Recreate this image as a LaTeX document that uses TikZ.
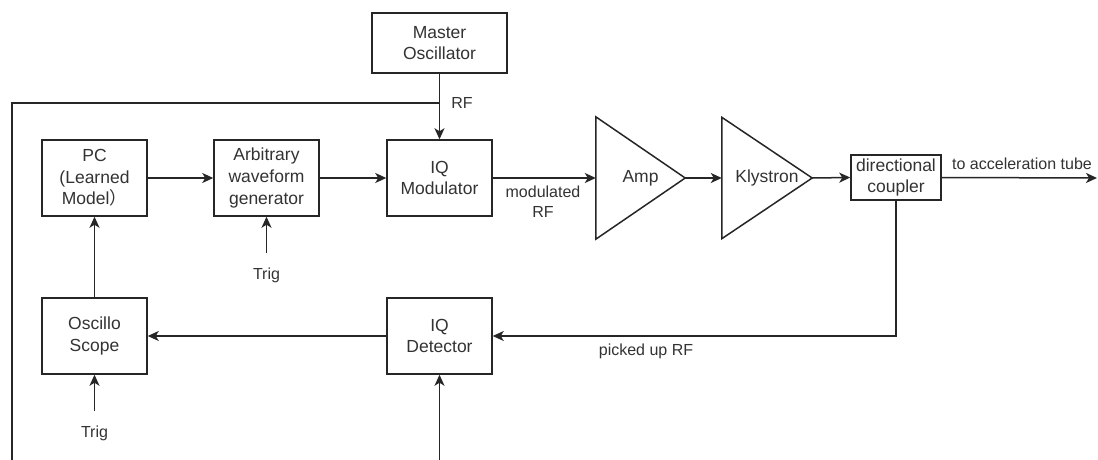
\documentclass[tikz,border=0pt]{standalone}
\usepackage{fontspec}
\setmainfont{Liberation Sans}
\newfontfamily\cjk{Noto Sans CJK SC}
\usetikzlibrary{arrows.meta}
\definecolor{ink}{HTML}{262626}
\definecolor{txt}{HTML}{333333}
\tikzset{
  blk/.style={draw=ink, line width=1.5pt, fill=white, inner sep=1pt, align=center,
    text=txt, font=\fontsize{17.5}{21.7}\selectfont},
  lbl/.style={text=txt, align=center, inner sep=1pt, font=\fontsize{16}{20}\selectfont},
  wire/.style={draw=ink, line width=1.5pt},
  arr/.style={wire, -{Stealth[length=11pt,width=10pt,inset=3pt]}},
  tri/.style={draw=ink, line width=1.5pt, line join=miter}
}
\begin{document}
\begin{tikzpicture}[x=1pt,y=-1pt]
\useasboundingbox (0,0) rectangle (1098,460);
% boxes
\node[blk, minimum width=135, minimum height=60] (mo) at (439.5,43) {Master\\Oscillator};
\node[blk, minimum width=105, minimum height=76] (pc) at (94.5,178) {PC\\(Learned\\Model{\cjk ）}};
\node[blk, minimum width=105, minimum height=76] (awg) at (266.5,178) {Arbitrary\\waveform\\generator};
\node[blk, minimum width=105, minimum height=76] (iqm) at (439.5,178) {IQ\\Modulator};
\node[inner sep=0, minimum width=89, minimum height=122] (amp) at (640.5,178) {};
\node[inner sep=0, minimum width=90, minimum height=121] (kly) at (767,178) {};
\draw[tri] (amp.north west) -- (amp.east) -- (amp.south west) -- cycle;
\draw[tri] (kly.north west) -- (kly.east) -- (kly.south west) -- cycle;
\node[blk, draw=none, fill=none] (ampt) at (amp.center) {Amp};
\node[blk, draw=none, fill=none] (klyt) at (kly.center) {Klystron};
\node[blk, minimum width=90, minimum height=45, inner sep=0pt] (dc) at (896,177.5) {directional\\coupler};
\node[blk, minimum width=105, minimum height=76] (iqd) at (439.5,336) {IQ\\Detector};
\node[blk, minimum width=105, minimum height=76] (sc) at (94.5,336) {Oscillo\\Scope};
% free ends
\coordinate (br) at (439.5,103);
\coordinate (lb) at (12,460);
\coordinate (t1) at (266.5,253);
\coordinate (t2) at (94.5,411);
\coordinate (bot) at (439.5,460);
\coordinate (out) at (1097,178);
% connectors
\draw[arr] (mo.south) -- (iqm.north);
\draw[wire] (lb) |- (br);
\draw[arr] (pc.east) -- (awg.west);
\draw[arr] (awg.east) -- (iqm.west);
\draw[arr] (t1) -- (awg.south);
\draw[arr] (iqm.east) -- (amp.west);
\draw[arr] (amp.east) -- (kly.west);
\draw[arr] (kly.east) -- (dc.west);
\draw[arr] (dc.east) -- (out);
\draw[arr] (dc.south) |- (iqd.east);
\draw[arr] (iqd.west) -- (sc.east);
\draw[arr] (sc.north) -- (pc.south);
\draw[arr] (t2) -- (sc.south);
\draw[arr] (bot) -- (iqd.south);
% labels
\node[lbl] (rf) at (462,103) {RF};
\node[lbl] (mrf) at (543,202) {modulated\\RF};
\node[lbl] (trig1) at (266.5,275) {Trig};
\node[lbl] (trig2) at (94.5,433) {Trig};
\node[lbl, fill=white] (tat) at (1022,164) {to acceleration tube};
\node[lbl, fill=white] (pur) at (646,351) {picked up RF};
\end{tikzpicture}
\end{document}
